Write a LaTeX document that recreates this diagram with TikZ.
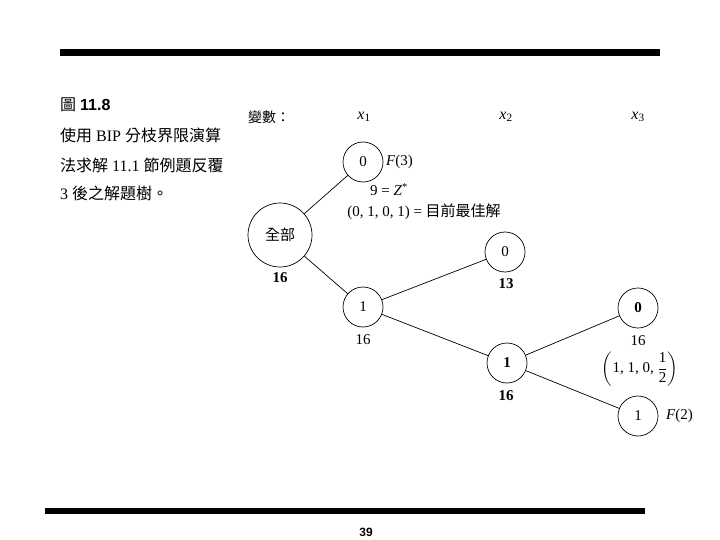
\documentclass[tikz,border=0pt]{standalone}
\usepackage{fontspec}
\usepackage{amsmath}
\setmainfont{Liberation Serif}
\newfontfamily\cjk{Noto Sans CJK TC}
\newfontfamily\arial{Liberation Sans}
\begin{document}
\begin{tikzpicture}[x=1pt,y=-1pt,
  nd/.style={circle,draw,line width=0.7pt,minimum size=40pt,inner sep=0pt,font=\fontsize{15}{15}\selectfont},
  lbl/.style={font=\fontsize{15}{15}\selectfont,inner sep=0pt},
  edge/.style={line width=0.7pt},
  captxt/.style={anchor=west,inner sep=0pt,font=\fontsize{16}{16}\selectfont}]
\useasboundingbox (0,0) rectangle (720,540);
% bars
\fill (60,49) rectangle (660,56);
\fill (45,508) rectangle (645,514);
\node[font=\arial\bfseries\fontsize{12}{12}\selectfont,inner sep=0pt] (pg) at (366,532) {39};
% caption
\node[captxt] (c1) at (60,105) {{\cjk 圖} {\arial\bfseries 11.8}};
\node[captxt] (c2) at (60,135) {{\cjk 使用} BIP {\cjk 分枝界限演算}};
\node[captxt] (c3) at (60,165) {{\cjk 法求解} 11.1 {\cjk 節例題反覆}};
\node[captxt] (c4) at (60,193) {3 {\cjk 後之解題樹。}};
% header
\node[anchor=west,inner sep=0pt,font=\cjk\fontsize{14}{14}\selectfont] (var) at (248,117) {變數：};
\node[lbl,font=\fontsize{16}{16}\selectfont] (x1) at (364,117) {\textit{x}\textsubscript{1}};
\node[lbl,font=\fontsize{16}{16}\selectfont] (x2) at (506,117) {\textit{x}\textsubscript{2}};
\node[lbl,font=\fontsize{16}{16}\selectfont] (x3) at (638,117) {\textit{x}\textsubscript{3}};
% nodes
\node[nd,minimum size=64pt] (all) at (280,235) {\cjk 全部};
\node[nd] (t0) at (363,162) {0};
\node[nd] (a1) at (363,307) {1};
\node[nd] (b0) at (505,252) {0};
\node[nd] (b1) at (507,363) {\bfseries 1};
\node[nd] (c0) at (638,308) {\bfseries 0};
\node[nd] (c1n) at (638,416) {1};
% labels
\node[lbl,anchor=west] (f3) at (386,162) {\textit{F}(3)};
\node[lbl] (z) at (389,190) {9 = \textit{Z}\textsuperscript{*}};
\node[lbl] (best) at (424,212) {(0, 1, 0, 1) = {\cjk 目前最佳解}};
\node[lbl,font=\bfseries\fontsize{15}{15}\selectfont] (v0) at (280,278) {16};
\node[lbl] (va1) at (363,340) {16};
\node[lbl,font=\bfseries\fontsize{15}{15}\selectfont] (vb0) at (506,284) {13};
\node[lbl,font=\bfseries\fontsize{15}{15}\selectfont] (vb1) at (506,396) {16};
\node[lbl] (vc0) at (638,341) {16};
\node[lbl] (frac) at (640,369) {$\displaystyle\left(\text{1, 1, 0, }\frac{\text{1}}{\text{2}}\right)$};
\node[lbl,anchor=west] (f2) at (666,416) {\textit{F}(2)};
% edges
\draw[edge] (all) -- (t0);
\draw[edge] (all) -- (a1);
\draw[edge] (a1) -- (b0);
\draw[edge] (a1) -- (b1);
\draw[edge] (b1) -- (c0);
\draw[edge] (b1) -- (c1n);
\end{tikzpicture}
\end{document}
